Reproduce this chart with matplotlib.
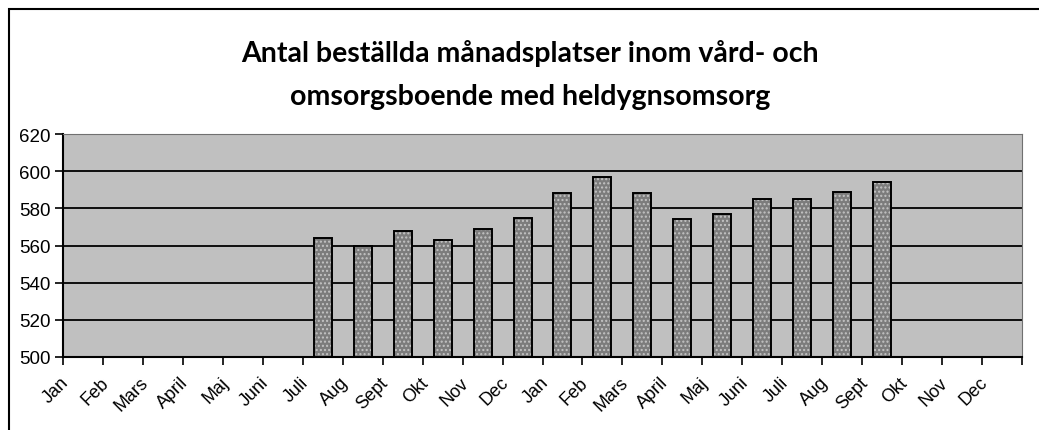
import numpy as np
import matplotlib.pyplot as plt
from matplotlib.patches import Rectangle

months = ['Jan', 'Feb', 'Mars', 'April', 'Maj', 'Juni', 'Juli', 'Aug', 'Sept',
          'Okt', 'Nov', 'Dec', 'Jan', 'Feb', 'Mars', 'April', 'Maj', 'Juni',
          'Juli', 'Aug', 'Sept', 'Okt', 'Nov', 'Dec']
# no values for the first six and last three months
platser = [np.nan] * 6 + [564, 560, 568, 563, 569, 575, 588, 597, 588, 574,
                          577, 585, 585, 589, 594] + [np.nan] * 3
yticks = [500, 520, 540, 560, 580, 600, 620]

title = 'Antal beställda månadsplatser inom vård- och\nomsorgsboende med heldygnsomsorg'

plt.rcParams['font.family'] = ['Liberation Sans', 'DejaVu Sans']

fig = plt.figure(figsize=(10.39, 4.31), dpi=100)
W, H = 1039, 431
ax = fig.add_axes([63 / W, 1 - 358 / H, (1022 - 63) / W, (358 - 135) / H])

# outer chart frame
fig.patches.append(Rectangle((9 / W, -0.1), 1.2, 1 - 10 / H + 0.1,
                             transform=fig.transFigure, fill=False,
                             edgecolor='black', linewidth=1.5))

ax.set_facecolor('#c0c0c0')
x = np.arange(len(months)) + 0.5
vals = np.array(platser, dtype=float)
ok = ~np.isnan(vals)
ax.bar(x[ok], vals[ok] - 500, bottom=500, width=0.45, color='#7c7c7c',
       hatch='....', edgecolor='#c4c4c4', linewidth=0, zorder=3)
ax.bar(x[ok], vals[ok] - 500, bottom=500, width=0.45, fill=False,
       edgecolor='black', linewidth=1.4, zorder=4)

ax.set_xlim(0, len(months))
ax.set_ylim(500, 620)
ax.set_yticks(yticks)
ax.set_yticklabels([str(v) for v in yticks], fontsize=13.5)
ax.tick_params(axis='y', length=6, width=1.2, pad=3, direction='out')
ax.yaxis.grid(True, color='black', linewidth=1.3, zorder=1)
ax.set_axisbelow(True)

ax.set_xticks(np.arange(len(months) + 1), minor=True)
ax.set_xticks(np.arange(len(months)) + 0.23)
ax.set_xticklabels(months, rotation=45, ha='right', fontsize=13)
ax.tick_params(axis='x', which='major', length=0, pad=12)
ax.tick_params(axis='x', which='minor', length=6, width=1.2, direction='out')

ax.spines['left'].set_linewidth(1.5)
ax.spines['bottom'].set_linewidth(1.5)
ax.spines['top'].set_color('#707070')
ax.spines['right'].set_color('#707070')

fig.text(530 / W, 1 - 75 / H, title, ha='center', va='center',
         fontsize=20.5, fontweight='bold', family=['Lato', 'DejaVu Sans'],
         linespacing=1.8)

fig.savefig('out.png', dpi=100)
